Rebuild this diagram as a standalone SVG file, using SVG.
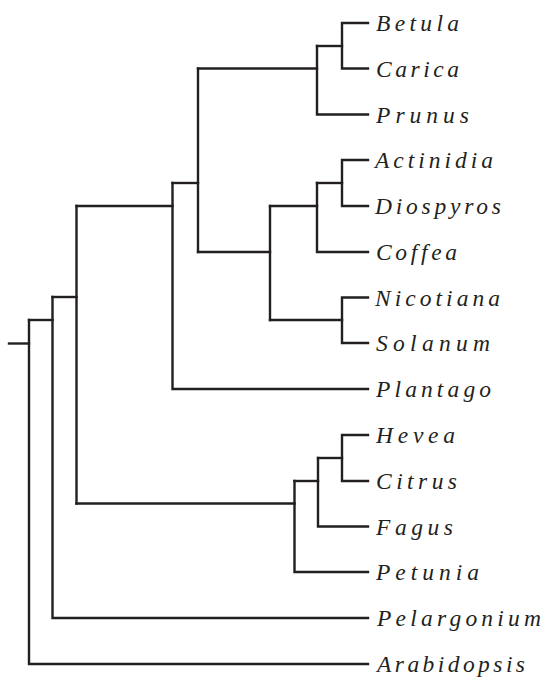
<svg xmlns="http://www.w3.org/2000/svg" width="546" height="678" viewBox="0 0 546 678">
  <style>
    .br { fill: none; stroke: #231f20; stroke-width: 2.4; stroke-linecap: square; stroke-linejoin: miter; }
    .tx { font-family: "Liberation Serif", "Times New Roman", serif; font-style: italic; font-size: 23.5px; fill: #231f20; }
  </style>
  <rect width="546" height="678" fill="#ffffff"/>

  <!-- branches: vertical node bars and horizontal edges -->
  <g id="connectors" class="br">
    <!-- root stub -->
    <path d="M9 343.5 H29"/>
    <!-- node A (x=29) -->
    <path d="M29 320 V664 H368"/>
    <path d="M29 320 H52.5"/>
    <!-- node B (x=52.5) -->
    <path d="M52.5 297 V618 H368"/>
    <path d="M52.5 297 H76.5"/>
    <!-- node C (x=76.5) -->
    <path d="M76.5 206 V503.5"/>
    <path d="M76.5 206 H172.5"/>
    <path d="M76.5 503.5 H294.5"/>
    <!-- node D (x=172.5) -->
    <path d="M172.5 183 V389 H368"/>
    <path d="M172.5 183 H198"/>
    <!-- node E (x=198) -->
    <path d="M198 68.5 V252"/>
    <path d="M198 68.5 H317"/>
    <path d="M198 252 H270"/>
    <!-- node F (x=317, Betula/Carica/Prunus) -->
    <path d="M317 46 V114.5 H368"/>
    <path d="M317 46 H342"/>
    <path d="M368 23 H342 V68.5 H368"/>
    <!-- node G (x=270) -->
    <path d="M270 206 V320"/>
    <path d="M270 206 H317"/>
    <path d="M270 320 H342"/>
    <!-- node H (x=317, Actinidia/Diospyros/Coffea) -->
    <path d="M317 183 V252 H368"/>
    <path d="M317 183 H342"/>
    <path d="M368 160 H342 V206 H368"/>
    <!-- Nicotiana/Solanum -->
    <path d="M368 297.5 H342 V343 H368"/>
    <!-- node I (x=294.5) -->
    <path d="M294.5 481 V572 H368"/>
    <path d="M294.5 481 H318"/>
    <!-- node J (x=318) -->
    <path d="M318 458 V526.5 H368"/>
    <path d="M318 458 H342"/>
    <!-- Hevea/Citrus -->
    <path d="M368 435 H342 V481 H368"/>
  </g>

  <!-- taxa -->
  <g id="betula"><text class="tx" x="376" y="31" textLength="83" lengthAdjust="spacing">Betula</text></g>
  <g id="carica"><text class="tx" x="376" y="76.5" textLength="83" lengthAdjust="spacing">Carica</text></g>
  <g id="prunus"><text class="tx" x="376" y="122.5" textLength="93" lengthAdjust="spacing">Prunus</text></g>
  <g id="actinidia"><text class="tx" x="375" y="168" textLength="118" lengthAdjust="spacing">Actinidia</text></g>
  <g id="diospyros"><text class="tx" x="375" y="214" textLength="126" lengthAdjust="spacing">Diospyros</text></g>
  <g id="coffea"><text class="tx" x="376" y="260" textLength="81" lengthAdjust="spacing">Coffea</text></g>
  <g id="nicotiana"><text class="tx" x="375" y="305.5" textLength="125" lengthAdjust="spacing">Nicotiana</text></g>
  <g id="solanum"><text class="tx" x="376" y="351" textLength="114" lengthAdjust="spacing">Solanum</text></g>
  <g id="plantago"><text class="tx" x="376" y="397" textLength="115" lengthAdjust="spacing">Plantago</text></g>
  <g id="hevea"><text class="tx" x="376" y="443" textLength="79" lengthAdjust="spacing">Hevea</text></g>
  <g id="citrus"><text class="tx" x="376" y="489" textLength="81" lengthAdjust="spacing">Citrus</text></g>
  <g id="fagus"><text class="tx" x="376" y="534.5" textLength="77" lengthAdjust="spacing">Fagus</text></g>
  <g id="petunia"><text class="tx" x="376" y="580" textLength="103" lengthAdjust="spacing">Petunia</text></g>
  <g id="pelargonium"><text class="tx" x="377" y="626" textLength="164" lengthAdjust="spacing">Pelargonium</text></g>
  <g id="arabidopsis"><text class="tx" x="377" y="672" textLength="148" lengthAdjust="spacing">Arabidopsis</text></g>
</svg>
